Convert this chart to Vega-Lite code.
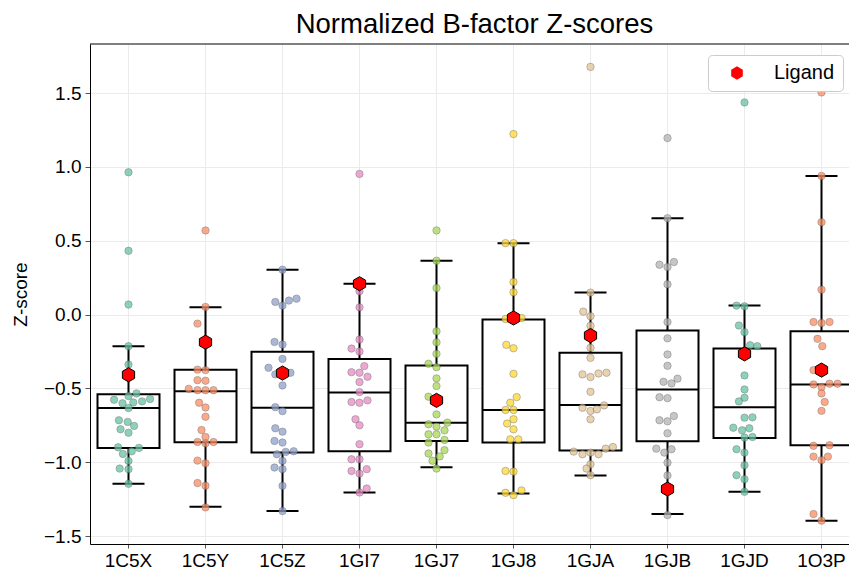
{
  "$schema": "https://vega.github.io/schema/vega-lite/v6.json",
  "autosize": {"type": "none"},
  "padding": {"left": 90, "top": 44, "right": 0, "bottom": 27},
  "width": 759,
  "height": 500,
  "title": {"text": "Normalized B-factor Z-scores", "fontSize": 27.5, "font": "Liberation Sans", "fontWeight": "normal", "color": "black", "anchor": "middle", "dx": 5, "offset": 5},
  "datasets": {
    "pts": [
      {"c":"1C5X","v":0.964,"j":0},{"c":"1C5X","v":0.432,"j":0},{"c":"1C5X","v":0.068,"j":0},{"c":"1C5X","v":-0.214,"j":0},{"c":"1C5X","v":-0.338,"j":0},{"c":"1C5X","v":-0.534,"j":1},{"c":"1C5X","v":-0.552,"j":0},{"c":"1C5X","v":-0.577,"j":-1.8},{"c":"1C5X","v":-0.601,"j":-0.75},{"c":"1C5X","v":-0.595,"j":0.6},{"c":"1C5X","v":-0.588,"j":1.7},{"c":"1C5X","v":-0.572,"j":2.7},{"c":"1C5X","v":-0.633,"j":0},{"c":"1C5X","v":-0.716,"j":-1.2},{"c":"1C5X","v":-0.727,"j":-0.1},{"c":"1C5X","v":-0.754,"j":0.7},{"c":"1C5X","v":-0.777,"j":-1},{"c":"1C5X","v":-0.8,"j":0},{"c":"1C5X","v":-0.899,"j":-1.3},{"c":"1C5X","v":-0.903,"j":1.3},{"c":"1C5X","v":-0.926,"j":0.4},{"c":"1C5X","v":-0.944,"j":-0.7},{"c":"1C5X","v":-0.991,"j":0},{"c":"1C5X","v":-1.043,"j":-1.1},{"c":"1C5X","v":-1.047,"j":0},{"c":"1C5X","v":-1.146,"j":0},
      {"c":"1C5Y","v":0.57,"j":0},{"c":"1C5Y","v":0.052,"j":0},{"c":"1C5Y","v":-0.061,"j":-1},{"c":"1C5Y","v":-0.373,"j":-1},{"c":"1C5Y","v":-0.376,"j":0},{"c":"1C5Y","v":-0.444,"j":-1},{"c":"1C5Y","v":-0.448,"j":0},{"c":"1C5Y","v":-0.503,"j":-2.1},{"c":"1C5Y","v":-0.512,"j":-1},{"c":"1C5Y","v":-0.512,"j":0},{"c":"1C5Y","v":-0.512,"j":1},{"c":"1C5Y","v":-0.597,"j":-0.8},{"c":"1C5Y","v":-0.629,"j":0},{"c":"1C5Y","v":-0.692,"j":0},{"c":"1C5Y","v":-0.782,"j":-0.5},{"c":"1C5Y","v":-0.829,"j":0},{"c":"1C5Y","v":-0.863,"j":-1},{"c":"1C5Y","v":-0.872,"j":0},{"c":"1C5Y","v":-0.863,"j":1},{"c":"1C5Y","v":-0.989,"j":-1},{"c":"1C5Y","v":-1.007,"j":0},{"c":"1C5Y","v":-1.141,"j":-1},{"c":"1C5Y","v":-1.159,"j":0},{"c":"1C5Y","v":-1.306,"j":0},
      {"c":"1C5Z","v":0.304,"j":0},{"c":"1C5Z","v":0.086,"j":-0.9},{"c":"1C5Z","v":0.061,"j":0},{"c":"1C5Z","v":0.095,"j":0.8},{"c":"1C5Z","v":0.108,"j":1.75},{"c":"1C5Z","v":-0.185,"j":-1},{"c":"1C5Z","v":-0.203,"j":0},{"c":"1C5Z","v":-0.3,"j":0},{"c":"1C5Z","v":-0.36,"j":-1.75},{"c":"1C5Z","v":-0.405,"j":-0.9},{"c":"1C5Z","v":-0.394,"j":1},{"c":"1C5Z","v":-0.48,"j":0},{"c":"1C5Z","v":-0.627,"j":-0.9},{"c":"1C5Z","v":-0.654,"j":0},{"c":"1C5Z","v":-0.77,"j":-0.9},{"c":"1C5Z","v":-0.793,"j":0},{"c":"1C5Z","v":-0.856,"j":-1},{"c":"1C5Z","v":-0.867,"j":0},{"c":"1C5Z","v":-0.946,"j":-0.7},{"c":"1C5Z","v":-0.93,"j":0.4},{"c":"1C5Z","v":-0.926,"j":1.4},{"c":"1C5Z","v":-0.991,"j":0},{"c":"1C5Z","v":-1.036,"j":-1},{"c":"1C5Z","v":-1.047,"j":0},{"c":"1C5Z","v":-1.16,"j":0},{"c":"1C5Z","v":-1.331,"j":0},
      {"c":"1GI7","v":0.953,"j":0},{"c":"1GI7","v":0.209,"j":0},{"c":"1GI7","v":0.158,"j":0},{"c":"1GI7","v":0.049,"j":0},{"c":"1GI7","v":-0.169,"j":0},{"c":"1GI7","v":-0.23,"j":-1},{"c":"1GI7","v":-0.25,"j":0},{"c":"1GI7","v":-0.349,"j":0.6},{"c":"1GI7","v":-0.39,"j":-1},{"c":"1GI7","v":-0.394,"j":0},{"c":"1GI7","v":-0.421,"j":1},{"c":"1GI7","v":-0.457,"j":0},{"c":"1GI7","v":-0.525,"j":0},{"c":"1GI7","v":-0.592,"j":-1},{"c":"1GI7","v":-0.597,"j":0},{"c":"1GI7","v":-0.581,"j":1},{"c":"1GI7","v":-0.709,"j":-0.5},{"c":"1GI7","v":-0.75,"j":0},{"c":"1GI7","v":-0.878,"j":0},{"c":"1GI7","v":-0.98,"j":-1},{"c":"1GI7","v":-0.98,"j":0},{"c":"1GI7","v":-1.059,"j":-1},{"c":"1GI7","v":-1.077,"j":0},{"c":"1GI7","v":-1.047,"j":0.9},{"c":"1GI7","v":-1.178,"j":0.9},{"c":"1GI7","v":-1.205,"j":0},
      {"c":"1GJ7","v":0.57,"j":0},{"c":"1GJ7","v":0.365,"j":0},{"c":"1GJ7","v":0.18,"j":0},{"c":"1GJ7","v":-0.113,"j":0},{"c":"1GJ7","v":-0.188,"j":0},{"c":"1GJ7","v":-0.266,"j":0},{"c":"1GJ7","v":-0.333,"j":-1},{"c":"1GJ7","v":-0.356,"j":0},{"c":"1GJ7","v":-0.432,"j":0},{"c":"1GJ7","v":-0.484,"j":0},{"c":"1GJ7","v":-0.556,"j":-1},{"c":"1GJ7","v":-0.676,"j":0},{"c":"1GJ7","v":-0.743,"j":-1},{"c":"1GJ7","v":-0.759,"j":0},{"c":"1GJ7","v":-0.784,"j":1},{"c":"1GJ7","v":-0.732,"j":1.35},{"c":"1GJ7","v":-0.811,"j":-1},{"c":"1GJ7","v":-0.811,"j":0},{"c":"1GJ7","v":-0.867,"j":-1},{"c":"1GJ7","v":-0.849,"j":1},{"c":"1GJ7","v":-0.941,"j":-1},{"c":"1GJ7","v":-0.918,"j":1},{"c":"1GJ7","v":-0.99,"j":-0.5},{"c":"1GJ7","v":-0.961,"j":0.4},{"c":"1GJ7","v":-1.043,"j":0},
      {"c":"1GJ8","v":1.223,"j":0},{"c":"1GJ8","v":0.484,"j":-1},{"c":"1GJ8","v":0.484,"j":0},{"c":"1GJ8","v":0.221,"j":0},{"c":"1GJ8","v":0.151,"j":0},{"c":"1GJ8","v":-0.03,"j":-1},{"c":"1GJ8","v":-0.023,"j":1},{"c":"1GJ8","v":-0.205,"j":-0.9},{"c":"1GJ8","v":-0.228,"j":0},{"c":"1GJ8","v":-0.401,"j":0},{"c":"1GJ8","v":-0.559,"j":0.4},{"c":"1GJ8","v":-0.597,"j":-0.4},{"c":"1GJ8","v":-0.646,"j":-1},{"c":"1GJ8","v":-0.646,"j":0},{"c":"1GJ8","v":-0.709,"j":0},{"c":"1GJ8","v":-0.738,"j":-0.8},{"c":"1GJ8","v":-0.777,"j":0},{"c":"1GJ8","v":-0.845,"j":-0.4},{"c":"1GJ8","v":-0.845,"j":0.6},{"c":"1GJ8","v":-1.059,"j":-1},{"c":"1GJ8","v":-1.063,"j":0},{"c":"1GJ8","v":-1.207,"j":-1},{"c":"1GJ8","v":-1.223,"j":0},{"c":"1GJ8","v":-1.191,"j":1},
      {"c":"1GJA","v":1.678,"j":0},{"c":"1GJA","v":0.149,"j":0},{"c":"1GJA","v":0.02,"j":-0.9},{"c":"1GJA","v":-0.011,"j":0},{"c":"1GJA","v":-0.075,"j":0},{"c":"1GJA","v":-0.225,"j":0},{"c":"1GJA","v":-0.293,"j":0},{"c":"1GJA","v":-0.405,"j":-1},{"c":"1GJA","v":-0.423,"j":0},{"c":"1GJA","v":-0.399,"j":1},{"c":"1GJA","v":-0.394,"j":2},{"c":"1GJA","v":-0.523,"j":0},{"c":"1GJA","v":-0.631,"j":-1},{"c":"1GJA","v":-0.653,"j":0},{"c":"1GJA","v":-0.642,"j":0.8},{"c":"1GJA","v":-0.615,"j":1.7},{"c":"1GJA","v":-0.709,"j":0},{"c":"1GJA","v":-0.928,"j":-2.1},{"c":"1GJA","v":-0.946,"j":-1},{"c":"1GJA","v":-0.935,"j":0},{"c":"1GJA","v":-0.946,"j":1},{"c":"1GJA","v":-0.908,"j":1.9},{"c":"1GJA","v":-0.897,"j":2.8},{"c":"1GJA","v":-1.014,"j":0},{"c":"1GJA","v":-1.043,"j":-0.5},{"c":"1GJA","v":-1.088,"j":0},
      {"c":"1GJB","v":1.196,"j":0},{"c":"1GJB","v":0.653,"j":0},{"c":"1GJB","v":0.338,"j":-1},{"c":"1GJB","v":0.322,"j":0},{"c":"1GJB","v":0.356,"j":0.8},{"c":"1GJB","v":0.205,"j":0},{"c":"1GJB","v":-0.05,"j":0},{"c":"1GJB","v":-0.161,"j":0},{"c":"1GJB","v":-0.27,"j":0},{"c":"1GJB","v":-0.347,"j":0},{"c":"1GJB","v":-0.455,"j":-0.5},{"c":"1GJB","v":-0.466,"j":0.5},{"c":"1GJB","v":-0.434,"j":1.25},{"c":"1GJB","v":-0.56,"j":-1},{"c":"1GJB","v":-0.566,"j":0},{"c":"1GJB","v":-0.716,"j":-1},{"c":"1GJB","v":-0.723,"j":0},{"c":"1GJB","v":-0.687,"j":0.8},{"c":"1GJB","v":-0.804,"j":0},{"c":"1GJB","v":-0.908,"j":-1.4},{"c":"1GJB","v":-0.935,"j":-0.4},{"c":"1GJB","v":-0.912,"j":0.5},{"c":"1GJB","v":-1.003,"j":0},{"c":"1GJB","v":-1.09,"j":0},{"c":"1GJB","v":-1.358,"j":0},
      {"c":"1GJD","v":1.437,"j":0},{"c":"1GJD","v":0.061,"j":-1},{"c":"1GJD","v":0.056,"j":0},{"c":"1GJD","v":-0.074,"j":-0.7},{"c":"1GJD","v":-0.119,"j":0},{"c":"1GJD","v":-0.207,"j":0.7},{"c":"1GJD","v":-0.214,"j":1.6},{"c":"1GJD","v":-0.412,"j":0},{"c":"1GJD","v":-0.507,"j":0},{"c":"1GJD","v":-0.563,"j":0},{"c":"1GJD","v":-0.588,"j":-0.7},{"c":"1GJD","v":-0.698,"j":0},{"c":"1GJD","v":-0.696,"j":1},{"c":"1GJD","v":-0.766,"j":-1.4},{"c":"1GJD","v":-0.784,"j":-0.3},{"c":"1GJD","v":-0.77,"j":0.6},{"c":"1GJD","v":-0.833,"j":0},{"c":"1GJD","v":-0.829,"j":1},{"c":"1GJD","v":-0.912,"j":-1},{"c":"1GJD","v":-0.935,"j":0},{"c":"1GJD","v":-1.02,"j":0},{"c":"1GJD","v":-1.088,"j":-1},{"c":"1GJD","v":-1.115,"j":0},{"c":"1GJD","v":-1.2,"j":0},
      {"c":"1O3P","v":1.505,"j":0},{"c":"1O3P","v":0.939,"j":0},{"c":"1O3P","v":0.626,"j":0},{"c":"1O3P","v":0.169,"j":0},{"c":"1O3P","v":-0.05,"j":-1},{"c":"1O3P","v":-0.057,"j":0},{"c":"1O3P","v":-0.05,"j":1},{"c":"1O3P","v":-0.164,"j":-0.5},{"c":"1O3P","v":-0.214,"j":0.1},{"c":"1O3P","v":-0.376,"j":-1},{"c":"1O3P","v":-0.473,"j":-1},{"c":"1O3P","v":-0.491,"j":0},{"c":"1O3P","v":-0.468,"j":1},{"c":"1O3P","v":-0.468,"j":2},{"c":"1O3P","v":-0.534,"j":0},{"c":"1O3P","v":-0.592,"j":0.4},{"c":"1O3P","v":-0.652,"j":0},{"c":"1O3P","v":-0.889,"j":-1},{"c":"1O3P","v":-0.885,"j":1},{"c":"1O3P","v":-0.962,"j":-1},{"c":"1O3P","v":-0.986,"j":0},{"c":"1O3P","v":-0.962,"j":0.8},{"c":"1O3P","v":-1.351,"j":-1},{"c":"1O3P","v":-1.396,"j":0}
    ],
    "box": [
      {"c":"1C5X","lo":-1.146,"q1":-0.903,"med":-0.633,"q3":-0.54,"hi":-0.214},
      {"c":"1C5Y","lo":-1.302,"q1":-0.865,"med":-0.52,"q3":-0.374,"hi":0.049},
      {"c":"1C5Z","lo":-1.331,"q1":-0.935,"med":-0.631,"q3":-0.252,"hi":0.304},
      {"c":"1GI7","lo":-1.205,"q1":-0.926,"med":-0.527,"q3":-0.3,"hi":0.209},
      {"c":"1GJ7","lo":-1.034,"q1":-0.856,"med":-0.732,"q3":-0.345,"hi":0.365},
      {"c":"1GJ8","lo":-1.212,"q1":-0.867,"med":-0.646,"q3":-0.034,"hi":0.484},
      {"c":"1GJA","lo":-1.09,"q1":-0.921,"med":-0.613,"q3":-0.259,"hi":0.149},
      {"c":"1GJB","lo":-1.351,"q1":-0.858,"med":-0.507,"q3":-0.108,"hi":0.653},
      {"c":"1GJD","lo":-1.2,"q1":-0.836,"med":-0.628,"q3":-0.23,"hi":0.061},
      {"c":"1O3P","lo":-1.396,"q1":-0.885,"med":-0.473,"q3":-0.113,"hi":0.939}
    ],
    "lig": [
      {"c":"1C5X","v":-0.408,"k":"Ligand"},
      {"c":"1C5Y","v":-0.187,"k":"Ligand"},
      {"c":"1C5Z","v":-0.396,"k":"Ligand"},
      {"c":"1GI7","v":0.209,"k":"Ligand"},
      {"c":"1GJ7","v":-0.581,"k":"Ligand"},
      {"c":"1GJ8","v":-0.023,"k":"Ligand"},
      {"c":"1GJA","v":-0.142,"k":"Ligand"},
      {"c":"1GJB","v":-1.182,"k":"Ligand"},
      {"c":"1GJD","v":-0.266,"k":"Ligand"},
      {"c":"1O3P","v":-0.376,"k":"Ligand"}
    ]
  },
  "layer": [
    {
      "data": {"name": "box"},
      "mark": {"type": "rule", "color": "black", "strokeWidth": 2},
      "encoding": {
        "x": {"field": "c", "type": "nominal", "sort": null, "title": null,
              "scale": {"range": [0, 770], "paddingInner": 0, "paddingOuter": 0},
              "axis": {"labelAngle": 0, "labelFontSize": 19, "labelColor": "black", "tickSize": 4, "tickColor": "#555", "labelPadding": 3, "domainColor": "black", "grid": true, "gridColor": "#ebebeb"}},
        "y": {"field": "lo", "type": "quantitative", "title": "Z-score",
              "scale": {"domain": [-1.554, 1.833], "nice": false, "zero": false},
              "axis": {"values": [-1.5, -1.0, -0.5, 0.0, 0.5, 1.0, 1.5], "format": ".1f", "labelExpr": "replace(datum.label, '-', '\u2212')", "labelFontSize": 19, "labelColor": "black", "titleFontSize": 19, "titleFontWeight": "normal", "titleColor": "black", "titlePadding": 13, "tickSize": 5, "tickColor": "#555", "labelPadding": 4, "domainColor": "black", "grid": true, "gridColor": "#ebebeb"}},
        "y2": {"field": "hi"}
      }
    },
    {
      "data": {"name": "box"},
      "mark": {"type": "bar", "fill": "white", "stroke": "black", "strokeWidth": 2, "size": 62},
      "encoding": {
        "x": {"field": "c", "type": "nominal", "sort": null, "title": null},
        "y": {"field": "q1", "type": "quantitative", "title": "Z-score"},
        "y2": {"field": "q3"}
      }
    },
    {
      "data": {"name": "box"},
      "mark": {"type": "tick", "color": "black", "size": 62, "thickness": 2, "opacity": 1},
      "encoding": {
        "x": {"field": "c", "type": "nominal", "sort": null, "title": null},
        "y": {"field": "med", "type": "quantitative", "title": "Z-score"}
      }
    },
    {
      "data": {"name": "box"},
      "mark": {"type": "tick", "color": "black", "size": 32, "thickness": 2, "opacity": 1},
      "encoding": {
        "x": {"field": "c", "type": "nominal", "sort": null, "title": null},
        "y": {"field": "lo", "type": "quantitative", "title": "Z-score"}
      }
    },
    {
      "data": {"name": "box"},
      "mark": {"type": "tick", "color": "black", "size": 32, "thickness": 2, "opacity": 1},
      "encoding": {
        "x": {"field": "c", "type": "nominal", "sort": null, "title": null},
        "y": {"field": "hi", "type": "quantitative", "title": "Z-score"}
      }
    },
    {
      "data": {"name": "pts"},
      "mark": {"type": "point", "filled": true, "size": 55, "opacity": 0.75, "stroke": "#555555", "strokeWidth": 0.5},
      "encoding": {
        "x": {"field": "c", "type": "nominal", "sort": null, "title": null},
        "xOffset": {"field": "j", "type": "quantitative", "scale": {"domain": [-5, 5], "range": [-1.5, 78.5]}},
        "y": {"field": "v", "type": "quantitative", "title": "Z-score"},
        "color": {"field": "c", "type": "nominal", "sort": null, "legend": null,
                  "scale": {"range": ["#66c2a5", "#fc8d62", "#8da0cb", "#e78ac3", "#a6d854", "#ffd92f", "#e5c494", "#b3b3b3", "#66c2a5", "#fc8d62"]}}
      }
    },
    {
      "data": {"name": "lig"},
      "mark": {"type": "point", "filled": true, "size": 200, "fill": "red", "stroke": "black", "strokeWidth": 1, "opacity": 1},
      "encoding": {
        "x": {"field": "c", "type": "nominal", "sort": null, "title": null},
        "y": {"field": "v", "type": "quantitative", "title": "Z-score"},
        "shape": {"field": "k", "type": "nominal",
                  "scale": {"range": ["M0,-1L0.866,-0.5L0.866,0.5L0,1L-0.866,0.5L-0.866,-0.5Z"]},
                  "legend": {"title": null, "orient": "none", "legendX": 618, "legendY": 11, "padding": 8, "fillColor": "white", "strokeColor": "#cccccc", "cornerRadius": 4, "symbolSize": 180, "symbolFillColor": "red", "symbolStrokeColor": "black", "symbolStrokeWidth": 1, "symbolOffset": 11, "labelOffset": 27, "labelFontSize": 20, "labelColor": "black", "labelFont": "Liberation Sans"}}
      }
    },
    {
      "data": {"values": [{}]},
      "mark": {"type": "rule", "color": "black", "strokeWidth": 1},
      "encoding": {"y": {"datum": 1.833, "type": "quantitative", "title": "Z-score"}}
    }
  ],
  "config": {
    "font": "Liberation Sans",
    "view": {"stroke": null},
    "axis": {"labelFont": "Liberation Sans", "titleFont": "Liberation Sans"}
  }
}
